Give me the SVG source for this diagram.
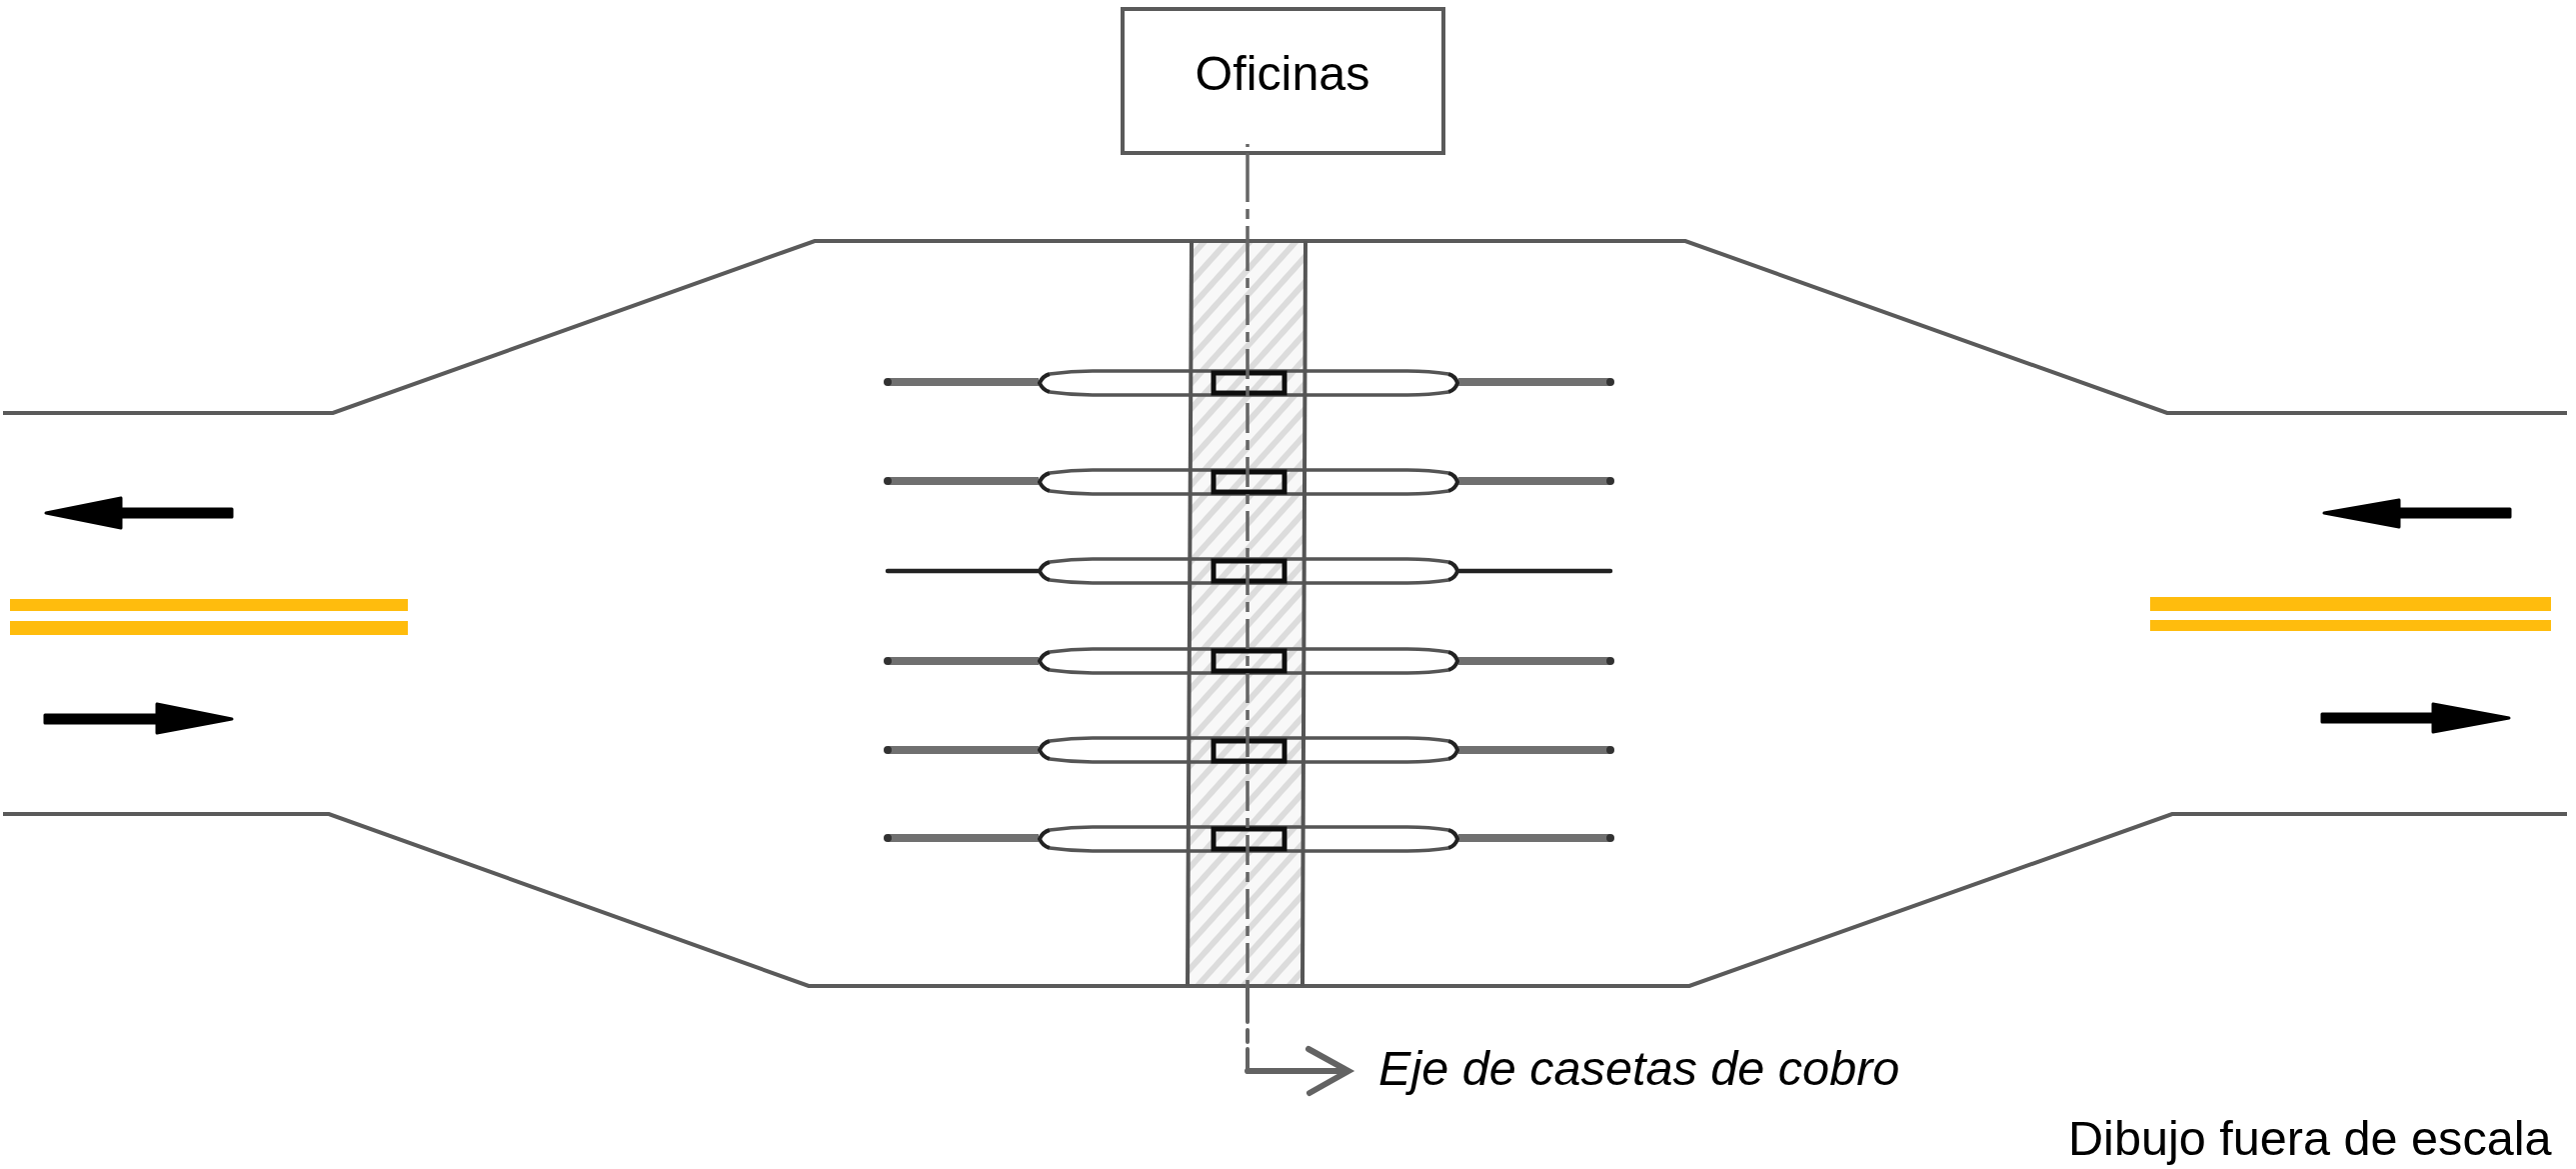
<svg xmlns="http://www.w3.org/2000/svg" width="2577" height="1169" viewBox="0 0 2577 1169">
<style>
text{font-family:"Liberation Sans",Arial,sans-serif;font-size:48.6px;fill:#000}
.road{fill:none;stroke:#5a5a5a;stroke-width:4;stroke-linejoin:miter}
.edge{fill:none;stroke:#555;stroke-width:4}
.isl{fill:none;stroke:#555;stroke-width:3.5}
.tip{fill:none;stroke:#222;stroke-width:4}
.booth{fill:none;stroke:#111;stroke-width:5}
.stub{stroke:#707070;stroke-width:8;fill:none}
.thin{stroke:#222;stroke-width:4.5;fill:none;stroke-linecap:round}
.dot{fill:#333}
.yel{fill:#FFBC08}
.ax{fill:none;stroke:#666;stroke-width:3.5}
.lead{fill:none;stroke:#636363;stroke-width:6;stroke-linecap:round;stroke-linejoin:miter}
.soft{filter:url(#s)}
</style>
<defs>
<filter id="s" x="-5%" y="-5%" width="110%" height="110%"><feGaussianBlur stdDeviation="0.7"/></filter>
<pattern id="hatch" width="17" height="17" patternUnits="userSpaceOnUse" patternTransform="rotate(-48)">
<rect width="17" height="17" fill="#f8f8f8"/><rect width="17" height="6" fill="#dcdcdc"/>
</pattern>
<g id="body">
<path class="isl" d="M1050-9Q1072-12 1093-12H1408Q1430-12 1449-9M1449 9Q1430 12 1408 12H1093Q1072 12 1050 9"/>
<path class="tip" d="M1050-9Q1043-7 1040 0Q1043 7 1050 9M1449-9Q1456-7 1458 0Q1456 7 1449 9"/>
</g>
<rect id="cab" class="booth" x="1214" y="-10" width="71" height="20"/>
<g id="ends"><path class="stub" d="M888 0H1039M1459 0H1611"/><circle class="dot" cx="888" cy="0" r="4"/><circle class="dot" cx="1611" cy="0" r="4"/></g>
<g id="endsThin"><path class="thin" d="M888 0H1039M1459 0H1611"/></g>
</defs>

<g id="plaza" class="soft">
<polygon id="band" points="1192,241 1306,241 1303,986 1188,986" fill="url(#hatch)"/>
<path class="road" d="M3 413H333L815 241H1686L2168 413H2568"/>
<path class="road" d="M3 814H329L809 986H1690L2173 814H2568"/>
</g>

<g id="markings" class="soft">
<rect class="yel" x="10" y="599" width="398" height="12"/>
<rect class="yel" x="10" y="621" width="398" height="14"/>
<rect class="yel" x="2151" y="597" width="401" height="14"/>
<rect class="yel" x="2151" y="620" width="401" height="11"/>
</g>

<g id="lane1" class="soft"><use href="#ends" y="382"/><use href="#body" y="383"/><use href="#cab" y="383"/></g>
<g id="lane2" class="soft"><use href="#ends" y="481"/><use href="#body" y="482"/><use href="#cab" y="482"/></g>
<g id="lane3" class="soft"><use href="#endsThin" y="571"/><use href="#body" y="571"/><use href="#cab" y="571"/></g>
<g id="lane4" class="soft"><use href="#ends" y="661"/><use href="#body" y="661"/><use href="#cab" y="661"/></g>
<g id="lane5" class="soft"><use href="#ends" y="750"/><use href="#body" y="750"/><use href="#cab" y="751"/></g>
<g id="lane6" class="soft"><use href="#ends" y="838"/><use href="#body" y="839"/><use href="#cab" y="839"/></g>

<g id="bandEdges" class="soft">
<path class="edge" d="M1192 241L1188 986M1306 241L1303 986"/>
</g>

<g id="oficinas">
<rect class="soft" x="1123" y="9" width="321" height="144" fill="#fff" stroke="#5a5a5a" stroke-width="4"/>
<text x="1283" y="90" text-anchor="middle" style="font-size:48.4px">Oficinas</text>
</g>

<g id="connectors">
<g class="soft">
<path class="ax" d="M1248 144V147M1248 153V202M1248 209V219M1248 226V241"/>
<path class="ax" stroke-dasharray="30 7 10 7" d="M1248 241V986"/>
<path class="lead" style="stroke-width:4" d="M1248 986V1022M1248 1030V1042M1248 1049V1072"/>
<path class="lead" d="M1248 1071H1348M1309 1049L1349 1071L1310 1093"/>
</g>
<g id="traffic" class="soft">
<path fill="#000" stroke="#000" stroke-width="3" stroke-linejoin="round" d="M46 513L121 498V509H232V517H121V528Z"/>
<path fill="#000" stroke="#000" stroke-width="3" stroke-linejoin="round" d="M232 719L157 704V715H45V723H157V733Z"/>
<path fill="#000" stroke="#000" stroke-width="3" stroke-linejoin="round" d="M2325 513L2400 500V509H2511V517H2400V527Z"/>
<path fill="#000" stroke="#000" stroke-width="3" stroke-linejoin="round" d="M2510 718L2434 704V714H2323V722H2434V732Z"/>
</g>
</g>

<g id="labels">
<text x="1379" y="1085" font-style="italic">Eje de casetas de cobro</text>
<text x="2069" y="1155">Dibujo fuera de escala</text>
</g>
</svg>
